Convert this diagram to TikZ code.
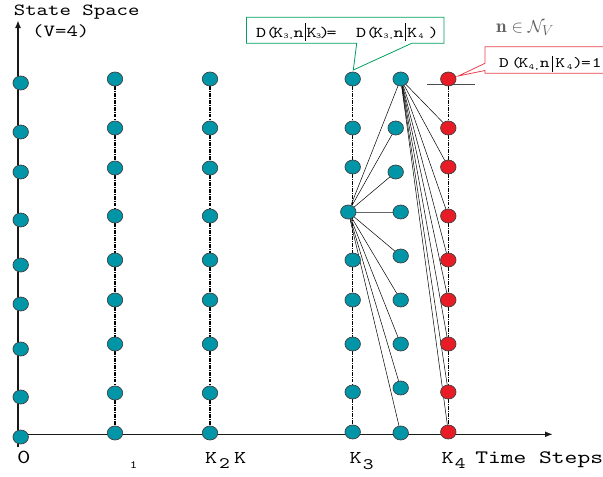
\documentclass[tikz,border=0pt]{standalone}
\usepackage{fontspec}
\usetikzlibrary{shapes.geometric,arrows.meta}
\newfontfamily\cour{lmmono10-regular}[Extension=.otf,FakeStretch=1.28]
\definecolor{teal1}{RGB}{0,150,168}
\definecolor{red1}{RGB}{232,28,38}
\definecolor{green1}{RGB}{0,160,96}
\definecolor{redline}{RGB}{236,64,78}
\newcommand\cf[1]{\fontsize{#1}{#1}\selectfont\cour}
\newcommand\gat[2]{\makebox[0pt][l]{\hspace*{#1pt}\makebox[0pt]{#2}}}
\pgfdeclarelayer{bg}
\pgfsetlayers{bg,main}
\begin{document}
\begin{tikzpicture}[x=1pt,y=-1pt,
  tnode/.style={ellipse,draw=black!75,line width=0.7pt,fill=teal1,minimum width=15.5pt,minimum height=14pt,inner sep=0pt},
  rnode/.style={tnode,fill=red1},
  link/.style={draw=black,line width=0.5pt},
  vline/.style={draw=black,line width=1.1pt,dash pattern=on 3.5pt off 1.2pt on 1pt off 1.2pt},
  axis/.style={draw=black!90,line width=1.6pt,-{Latex[length=8pt,width=6pt]}},
  lab/.style={inner sep=0pt,anchor=base}]
\useasboundingbox (0,0) rectangle (603,477);
% nodes
\foreach \y [count=\i] in {83,132,172,220,265,304,349,397,437}
  \node[tnode] (a\i) at (20.7,\y) {};
\foreach \y [count=\i] in {79,128,168,216,260,300,344,393,433}{
  \node[tnode] (b\i) at (115,\y) {};
  \node[tnode] (c\i) at (210,\y) {};}
\foreach \y/\i in {79/1,128/2,167/3,260/5,300/6,344/7,392/8,432/9}
  \node[tnode] (d\i) at (352.7,\y) {};
\node[tnode] (hub) at (348.3,212) {};
\foreach \x/\y [count=\i] in {400.7/79,395.7/128,395.7/172,400.7/212,400.7/256,400.7/300,400.7/344,400.7/388,400.7/433}
  \node[tnode] (m\i) at (\x,\y) {};
\foreach \y [count=\i] in {79,128,167,216,260,300,344,392,432}
  \node[rnode] (r\i) at (448.3,\y) {};
% axes and lines
\coordinate (O) at (18,434.3);
\coordinate (ytop) at (18,20);
\coordinate (ybot) at (18,447);
\coordinate (xend) at (553,434.3);
\coordinate (tl) at (427,84);
\coordinate (tr) at (475,84);
\begin{pgfonlayer}{bg}
  \draw[axis] (ybot) -- (ytop);
  \draw[axis] (O) -- (xend);
  \foreach \i/\j in {1/2,2/3,3/4,4/5,5/6,6/7,7/8,8/9}{
    \draw[vline] (b\i) -- (b\j);
    \draw[vline] (c\i) -- (c\j);
    \draw[vline] (r\i) -- (r\j);}
  \foreach \i/\j in {1/2,2/3,3/5,5/6,6/7,7/8,8/9}
    \draw[vline] (d\i) -- (d\j);
  \foreach \i in {1,2,3,5,6,7,8,9}
    \draw[link] (hub) -- (m\i);
  \draw[link,draw=black!60,line width=0.9pt] (hub) -- (m4);
  \foreach \i in {2,...,9}
    \draw[link] (m1) -- (r\i);
  \draw[draw=black!70,line width=0.8pt] (tl) -- (tr);
\end{pgfonlayer}
% callouts
\draw[green1,line width=0.8pt,fill=white] (246.5,17.3) -- (444,17.3) -- (444,43.3) -- (411.7,43.3) -- (353.3,70) -- (356.7,43.3) -- (246.5,43.3) -- cycle;
\node[inner sep=0pt,anchor=base west] (gtext) at (250,37) {\cf{15}%
  \gat{10.9}{D}\gat{20.9}{(}\gat{28}{K}\gat{38.5}{\raisebox{-1pt}{\cf{7.5}3,}}\gat{48.5}{n}%
  \gat{55}{\rule[-3.7pt]{0.7pt}{18pt}}\gat{61.5}{K}\gat{68.5}{\raisebox{-1pt}{\cf{7.5}3}}\gat{74.5}{)}\gat{81.5}{=}%
  \gat{110.9}{D}\gat{120.9}{(}\gat{128}{K}\gat{138.5}{\raisebox{-1pt}{\cf{7.5}3,}}\gat{148.5}{n}%
  \gat{155}{\rule[-3.7pt]{0.7pt}{18pt}}\gat{162}{K}\gat{171}{\raisebox{-1pt}{\cf{7.5}4}}\gat{183.4}{)}%
  \hspace*{190pt}};
\draw[redline,line width=0.8pt,fill=white] (485,46.7) -- (610,46.7) -- (610,73.3) -- (485,73.3) -- (485,70.5) -- (458.3,76) -- (485,63.3) -- cycle;
\node[inner sep=0pt,anchor=base west] (rtext) at (495,67.3) {\cf{14.5}%
  \gat{8.7}{D}\gat{21}{(}\gat{28.3}{K}\gat{39}{\raisebox{-2.5pt}{\cf{8}4,}}\gat{49.5}{n}%
  \gat{57}{\rule[-4.4pt]{0.7pt}{16.1pt}}\gat{65}{K}\gat{74.5}{\raisebox{-2.5pt}{\cf{8}4}}\gat{82.7}{)}\gat{90.8}{=}\gat{101.5}{1}%
  \hspace*{108pt}};
% labels
\node[lab] (ylab) at (76.7,15) {\cf{17}State Space};
\node[lab] (vlab) at (60.8,36) {\cf{17}(V=4)};
\node[lab,text=black!62] (nlab) at (525,32) {\fontsize{19}{19}\selectfont $\mathbf{n}\in\mathcal{N}_{V}$};
\node[lab] (l0) at (23.8,463.3) {\cf{20}0};
\node[lab] (l1) at (133.5,468.3) {\cf{11}1};
\node[inner sep=0pt,anchor=base west] (l2) at (200,463.3) {\cf{18}\gat{11}{K}\gat{24.3}{\raisebox{-5pt}{\cf{16}2}}\gat{40}{K}\hspace*{50pt}};
\node[inner sep=0pt,anchor=base west] (l3) at (345,463.3) {\cf{18}\gat{10.5}{K}\gat{23}{\raisebox{-5.7pt}{\cf{16}3}}\hspace*{30pt}};
\node[inner sep=0pt,anchor=base west] (l4) at (437,463.3) {\cf{18}\gat{10.5}{K}\gat{23}{\raisebox{-4.7pt}{\cf{16}4}}\hspace*{30pt}};
\node[lab] (xlab) at (539.2,463.3) {\cf{19}Time Steps};
\end{tikzpicture}
\end{document}
